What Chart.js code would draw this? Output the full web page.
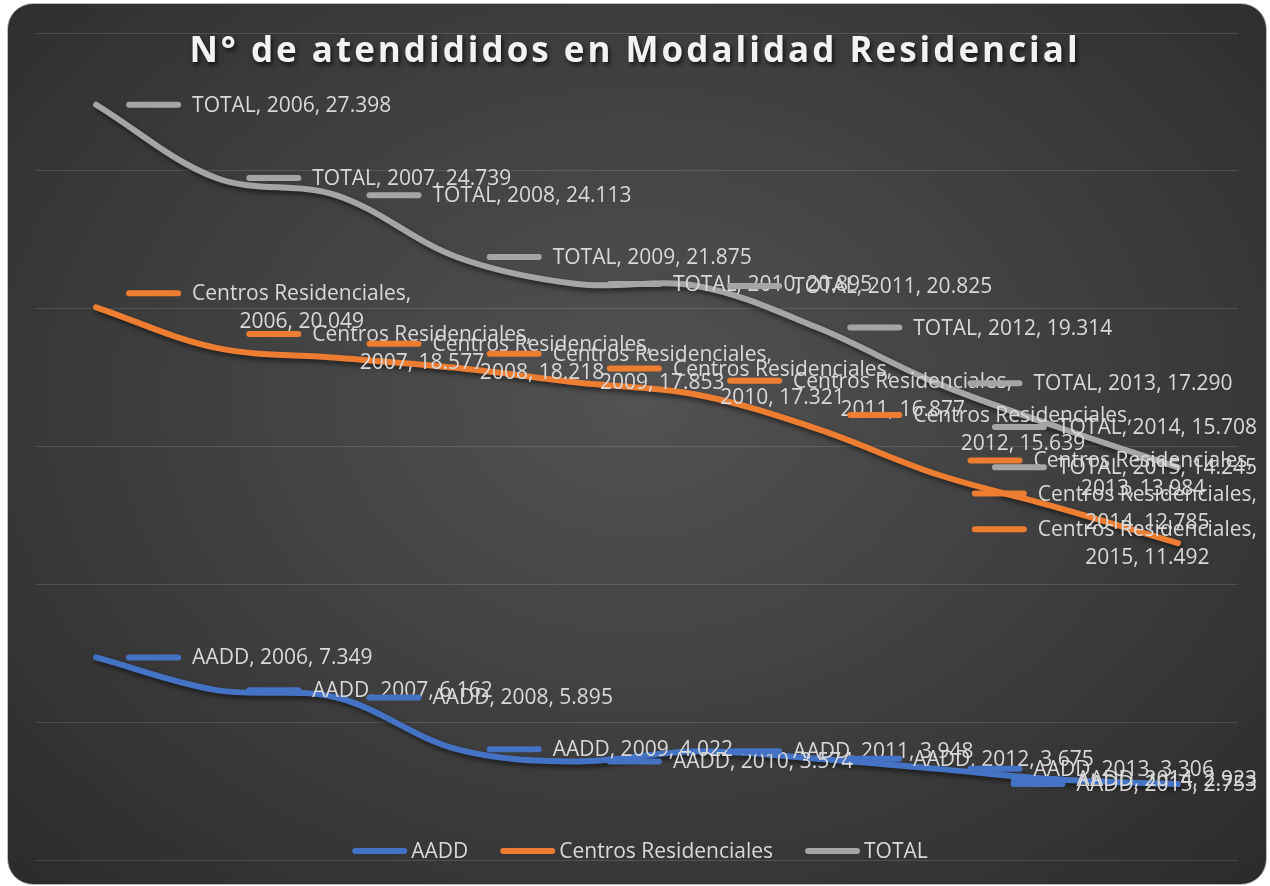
<!DOCTYPE html>
<html lang="es">
<head>
<meta charset="utf-8">
<title>N° de atendididos en Modalidad Residencial</title>
<script src="https://cdn.jsdelivr.net/npm/chart.js@4.4.1/dist/chart.umd.min.js"></script>
<style>
    html, body { margin: 0; padding: 0; background: #ffffff; }
    body { width: 1270px; height: 886px; position: relative; overflow: hidden; }
    .frame {
        position: absolute; left: 7px; top: 3px; width: 1258px; height: 880px;
        border: 1px solid #bfbfbf; border-radius: 26px;
        background: radial-gradient(ellipse at 50% 45%, #525252 0%, #3f3f3f 50%, #2b2b2b 100%);
    }
    .chart-box { position: absolute; left: 0; top: 0; width: 1270px; height: 886px; }
    .title {
        position: absolute; left: 0; width: 1270px; top: 31px; text-align: center;
        font-family: "Open Sans", sans-serif; font-weight: 700; font-size: 35px; line-height: 1;
        letter-spacing: 3px; color: #f2f2f2; text-shadow: 2px 3px 4px rgba(0, 0, 0, 0.65);
        pointer-events: none;
    }
</style>
</head>
<body>
<div class="frame"></div>
<div class="chart-box"><canvas id="residencialChart"></canvas></div>
<div class="title">N° de atendididos en Modalidad Residencial</div>
<script>
const years = ['2006', '2007', '2008', '2009', '2010', '2011', '2012', '2013', '2014', '2015'];
const aadd = [7349, 6162, 5895, 4022, 3574, 3948, 3675, 3306, 2923, 2753];
const centros = [20049, 18577, 18218, 17853, 17321, 16877, 15639, 13984, 12785, 11492];
const total = [27398, 24739, 24113, 21875, 20895, 20825, 19314, 17290, 15708, 14245];
const seriesNames = ['AADD', 'Centros Residenciales', 'TOTAL'];
const wrappedSeries = ['Centros Residenciales'];
const yMax = 30000;
const yStep = 5000;

const colors = ['#4472c4', '#ed7d31', '#a5a5a5'];
const textColor = '#d9d9d9';
const labelFont = '21px "Open Sans", sans-serif';
const numberFormatter = new Intl.NumberFormat('de-DE');

// sombra bajo las lineas
const lineShadow = {
    id: 'lineShadow',
    beforeDatasetDraw(chart) {
        const ctx = chart.ctx;
        ctx.save();
        ctx.shadowColor = 'rgba(0, 0, 0, 0.55)';
        ctx.shadowBlur = 5;
        ctx.shadowOffsetX = 2;
        ctx.shadowOffsetY = 3;
    },
    afterDatasetDraw(chart) {
        chart.ctx.restore();
    },
};

// etiquetas de datos al estilo Excel (clave + texto)
const dataLabels = {
    id: 'dataLabels',
    afterDatasetsDraw(chart) {
        const ctx = chart.ctx;
        const limit = chart.chartArea.right + 19;
        const lineH = 28;
        ctx.save();
        ctx.font = labelFont;
        ctx.textBaseline = 'middle';
        ctx.textAlign = 'center';
        ctx.lineCap = 'round';
        chart.data.datasets.forEach((ds, di) => {
            const meta = chart.getDatasetMeta(di);
            meta.data.forEach((pt, i) => {
                const value = numberFormatter.format(ds.data[i]);
                const lines = wrappedSeries.includes(ds.label)
                    ? [`${ds.label},`, `${years[i]}, ${value}`]
                    : [`${ds.label}, ${years[i]}, ${value}`];
                const textW = Math.max(...lines.map((l) => ctx.measureText(l).width));
                const blockW = 55 + 11 + textW;
                let left = pt.x + 30;
                if (left + blockW > limit) left = limit - blockW;
                const top = pt.y + 1 - ((lines.length - 1) * lineH) / 2;

                ctx.strokeStyle = ds.borderColor;
                ctx.lineWidth = 6;
                ctx.beginPath();
                ctx.moveTo(left + 3, top - 1);
                ctx.lineTo(left + 52, top - 1);
                ctx.stroke();

                ctx.fillStyle = textColor;
                lines.forEach((l, k) => ctx.fillText(l, left + 66 + textW / 2, top + k * lineH));
            });
        });
        ctx.restore();
    },
};

// leyenda dentro del area del grafico
const innerLegend = {
    id: 'innerLegend',
    afterDraw(chart) {
        const ctx = chart.ctx;
        const area = chart.chartArea;
        const y = area.bottom - 8;
        ctx.save();
        ctx.font = labelFont;
        ctx.textBaseline = 'middle';
        ctx.textAlign = 'left';
        ctx.lineCap = 'round';
        const items = chart.data.datasets.map((ds) => ({
            label: ds.label,
            color: ds.borderColor,
            w: 55 + 4 + ctx.measureText(ds.label).width,
        }));
        const gap = 32;
        const totalW = items.reduce((s, it) => s + it.w, 0) + gap * (items.length - 1);
        let x = (area.left + area.right) / 2 - totalW / 2 + 3;
        items.forEach((it) => {
            ctx.strokeStyle = it.color;
            ctx.lineWidth = 6;
            ctx.beginPath();
            ctx.moveTo(x + 3, y - 1);
            ctx.lineTo(x + 52, y - 1);
            ctx.stroke();
            ctx.fillStyle = textColor;
            ctx.fillText(it.label, x + 59, y);
            x += it.w + gap;
        });
        ctx.restore();
    },
};

const series = [aadd, centros, total];

new Chart(document.getElementById('residencialChart'), {
    type: 'line',
    data: {
        labels: years,
        datasets: seriesNames.map((name, i) => ({
            label: name,
            data: series[i],
            borderColor: colors[i],
            backgroundColor: colors[i],
            borderWidth: 6,
            borderCapStyle: 'round',
            tension: 0.35,
            pointRadius: 0,
            fill: false,
        })),
    },
    options: {
        responsive: true,
        maintainAspectRatio: false,
        animation: false,
        layout: {
            padding: { left: 36, right: 32, top: 33, bottom: 26 },
        },
        scales: {
            x: {
                display: false,
                offset: true,
            },
            y: {
                min: 0,
                max: yMax,
                ticks: { display: false, stepSize: yStep },
                border: { display: false },
                grid: {
                    color: 'rgba(217, 217, 217, 0.16)',
                    lineWidth: 1,
                    drawTicks: false,
                },
            },
        },
        plugins: {
            legend: { display: false },
            tooltip: { enabled: false },
        },
    },
    plugins: [lineShadow, dataLabels, innerLegend],
});
</script>
</body>
</html>
